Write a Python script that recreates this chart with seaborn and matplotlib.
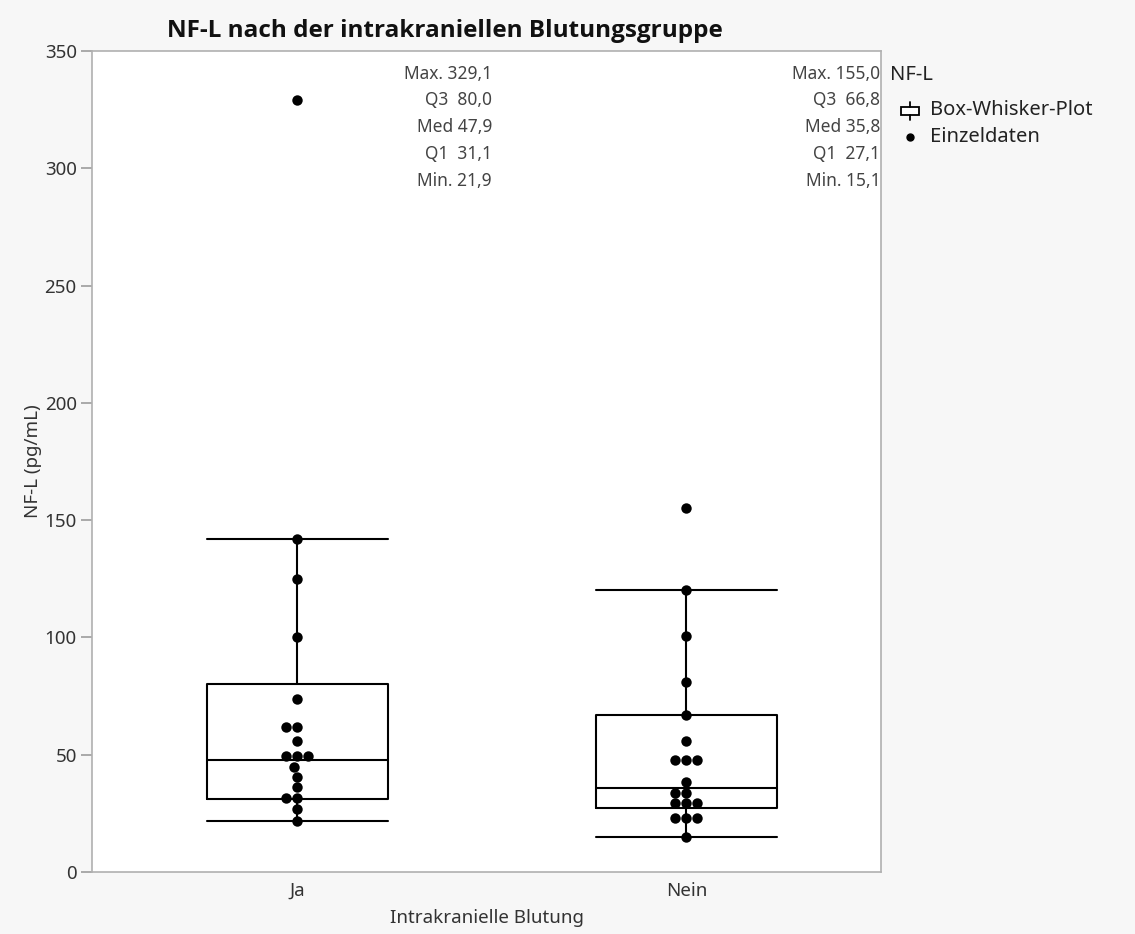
import matplotlib
matplotlib.use("Agg")
import matplotlib.pyplot as plt
from matplotlib.patches import Rectangle
from matplotlib.lines import Line2D
import seaborn as sns
import pandas as pd

# ---- data ----
groups = ["Ja", "Nein"]
ja_values = [329.1, 141.8, 124.7, 100.3, 73.6, 61.9, 61.9, 56.0, 49.6, 49.6, 49.6,
             44.9, 40.6, 36.1, 31.4, 31.4, 26.7, 21.9]
nein_values = [155.0, 120.2, 100.7, 80.9, 66.9, 56.0, 47.7, 47.7, 47.7, 38.5,
               33.8, 33.8, 29.3, 29.3, 29.3, 23.1, 23.1, 23.1, 15.1]
# printed summary (min, q1, median, q3, max) and whisker ends
stat_min = [21.9, 15.1]
stat_q1 = [31.1, 27.1]
stat_med = [47.9, 35.8]
stat_q3 = [80.0, 66.8]
stat_max = [329.1, 155.0]
whisker_hi = [141.8, 120.2]
y_ticks = [0, 50, 100, 150, 200, 250, 300, 350]

df = pd.DataFrame({
    "Intrakranielle Blutung": ["Ja"] * len(ja_values) + ["Nein"] * len(nein_values),
    "NF-L (pg/mL)": ja_values + nein_values,
})

sns.set_theme(style="white")
plt.rcParams["font.family"] = ["Noto Sans", "DejaVu Sans"]

W, H = 1135, 934
def fpx(x, y):
    return (x / W, 1 - y / H)

fig = plt.figure(figsize=(11.35, 9.34), dpi=100)
fig.patch.set_facecolor("#f7f7f7")
ax = fig.add_axes([92 / W, 62 / H, 789 / W, 821 / H])
ax.set_facecolor("white")

sns.swarmplot(data=df, x="Intrakranielle Blutung", y="NF-L (pg/mL)", order=groups,
              color="black", size=7.5, zorder=3, ax=ax)

bstats = []
for i in range(len(groups)):
    bstats.append({"med": stat_med[i], "q1": stat_q1[i], "q3": stat_q3[i],
                   "whislo": stat_min[i], "whishi": whisker_hi[i], "fliers": []})
lp = dict(color="black", linewidth=1.5)
ax.bxp(bstats, positions=[0, 1], widths=0.465, capwidths=0.465, showfliers=False,
       manage_ticks=False, boxprops=lp, whiskerprops=lp, capprops=lp,
       medianprops=lp, zorder=2)

ax.set_xlim(-0.527, 1.50)
ax.set_ylim(0, 350)
ax.set_yticks(y_ticks)
ax.set_xticks([0, 1])
ax.set_xticklabels(groups)
ax.tick_params(axis="y", length=8, color="#a0a0a0", labelsize=13.5, labelcolor="#333333", pad=3, left=True)
ax.tick_params(axis="x", length=0, labelsize=13.5, labelcolor="#333333", pad=7)
for s in ax.spines.values():
    s.set_color("#b0b0b0")
    s.set_linewidth(1.2)

ax.set_xlabel("Intrakranielle Blutung", fontsize=13.5, color="#333333", labelpad=7)
ax.set_ylabel("NF-L (pg/mL)", fontsize=13.5, color="#333333", labelpad=2)

fig.text(*fpx(445, 31), "NF-L nach der intrakraniellen Blutungsgruppe",
         ha="center", va="center", fontsize=17.5, fontweight="bold", color="#111111",
         family=["Open Sans", "DejaVu Sans"])

# summary annotations
label_rows = ["Max.", "Q3 ", "Med", "Q1 ", "Min."]
text_x = [0.507, 0.999]
row_y = [0.972, 0.940, 0.907, 0.874, 0.842]
for i in range(len(groups)):
    vals = [stat_max[i], stat_q3[i], stat_med[i], stat_q1[i], stat_min[i]]
    for lab, v, yy in zip(label_rows, vals, row_y):
        txt = f"{lab} " + f"{v:.1f}".replace(".", ",")
        ax.text(text_x[i], yy, txt, transform=ax.transAxes, ha="right", va="center",
                fontsize=12.5, color="#444444")

# legend (drawn by hand, JMP style)
fig.text(*fpx(890, 75), "NF-L", ha="left", va="center", fontsize=14.5, color="#222222")
fig.text(*fpx(930, 110), "Box-Whisker-Plot", ha="left", va="center", fontsize=14.5, color="#222222")
fig.text(*fpx(930, 137), "Einzeldaten", ha="left", va="center", fontsize=14.5, color="#222222")
x0, y0 = fpx(901, 115)
x1, y1 = fpx(919, 107)
fig.add_artist(Rectangle((x0, y0), x1 - x0, y1 - y0, transform=fig.transFigure,
                         facecolor="white", edgecolor="black", linewidth=1.3))
xa, ya = fpx(910, 102)
xb, yb = fpx(910, 107)
fig.add_artist(Line2D([xa, xb], [ya, yb], transform=fig.transFigure, color="black", linewidth=1.3))
xa, ya = fpx(910, 115)
xb, yb = fpx(910, 120)
fig.add_artist(Line2D([xa, xb], [ya, yb], transform=fig.transFigure, color="black", linewidth=1.3))
xd, yd = fpx(910, 137)
fig.add_artist(Line2D([xd], [yd], transform=fig.transFigure, marker="o", color="black",
                      markersize=5, linestyle="none"))

fig.savefig("out.png", dpi=100, facecolor=fig.get_facecolor())
